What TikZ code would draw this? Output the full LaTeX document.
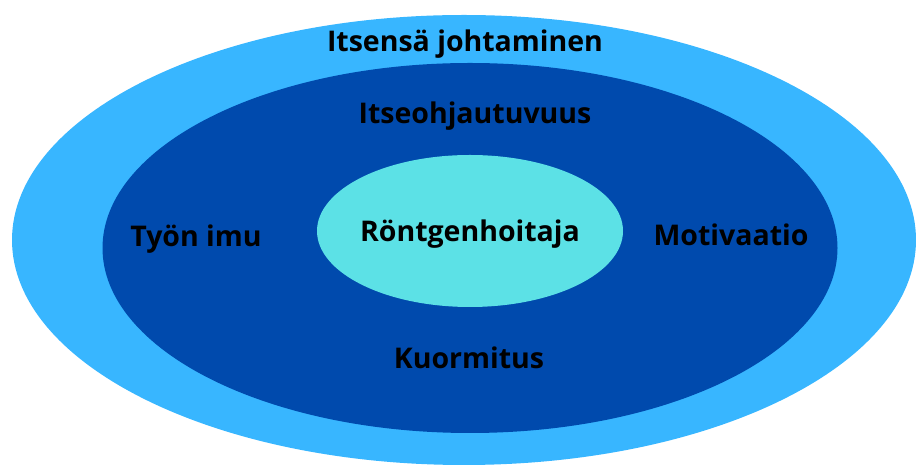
\documentclass[tikz,border=0pt]{standalone}
\usepackage{fontspec}
\setmainfont{Open Sans}
\usetikzlibrary{shapes.geometric,positioning}

\definecolor{skyblue}{HTML}{38B6FF}
\definecolor{royalblue}{HTML}{004AAD}
\definecolor{aqua}{HTML}{5CE1E6}

\begin{document}
\begin{tikzpicture}[
  x=1pt,y=1pt,
  ring/.style={ellipse,draw=none,inner sep=0pt},
  label/.style={font=\fontsize{28.5}{34}\selectfont\bfseries,text=black,inner sep=0pt}
]
  \useasboundingbox (0,0) rectangle (916,465);
  \clip (0,0) rectangle (916,465);

  \node[ring,fill=skyblue,minimum width=904pt,minimum height=450pt] (outer) at (464,225) {};
  \node[ring,fill=royalblue,minimum width=735pt,minimum height=370pt] (middle) at (470,217) {};
  \node[ring,fill=aqua,minimum width=306pt,minimum height=152pt] (core) at (470,234) {};

  \node[label] (selflead) at (465,421) {Itsensä johtaminen};
  \node[label] (selfdir) at (475,349) {Itseohjautuvuus};
  \node[label,yshift=-3pt] (radio) at (core) {Röntgenhoitaja};
  \node[label] (engage) at (196,226) {Työn imu};
  \node[label] (motiv) at (731,230) {Motivaatio};
  \node[label] (load) at (469,107) {Kuormitus};
\end{tikzpicture}
\end{document}
